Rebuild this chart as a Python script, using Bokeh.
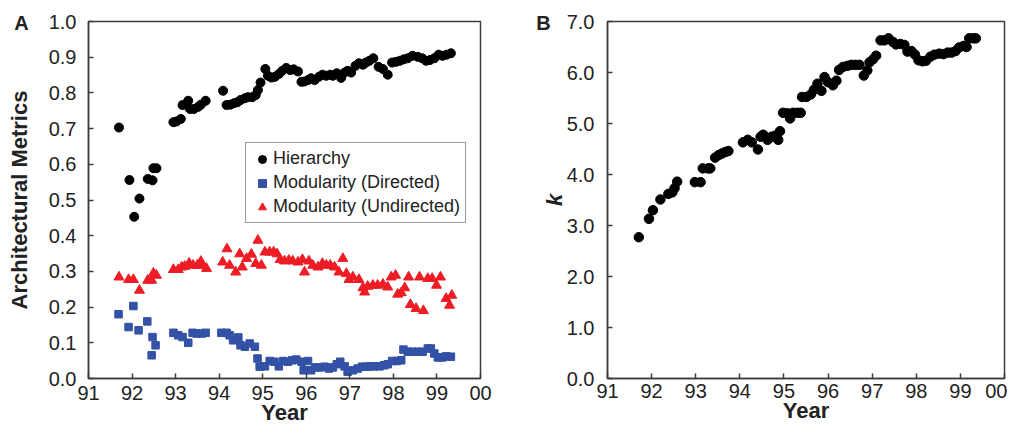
from bokeh.plotting import figure
from bokeh.layouts import row
from bokeh.models import FixedTicker, PrintfTickFormatter, Range1d, Label, Legend, LegendItem
from bokeh.embed import file_html
from bokeh.resources import INLINE

# ---------------- data ----------------
year_ticks = [91, 92, 93, 94, 95, 96, 97, 98, 99, 100]
year_tick_labels = ["91", "92", "93", "94", "95", "96", "97", "98", "99", "00"]

hier_year = [91.70, 91.94, 92.05, 92.17, 92.36, 92.47, 92.49, 92.56, 92.95, 93.02,
             93.12, 93.16, 93.29, 93.33, 93.42, 93.52, 93.58, 93.69, 94.09, 94.17,
             94.26, 94.34, 94.42, 94.49, 94.59, 94.66, 94.76, 94.84, 94.89, 94.95,
             95.06, 95.12, 95.20, 95.28, 95.37, 95.45, 95.54, 95.63, 95.71, 95.81,
             95.89, 95.96, 96.04, 96.11, 96.19, 96.29, 96.37, 96.46, 96.55, 96.61,
             96.70, 96.80, 96.88, 96.95, 97.03, 97.13, 97.21, 97.30, 97.37, 97.45,
             97.54, 97.66, 97.76, 97.87, 97.97, 98.06, 98.15, 98.24, 98.33, 98.44,
             98.56, 98.66, 98.75, 98.84, 98.94, 99.04, 99.13, 99.22, 99.32]
hier_val = [0.703, 0.556, 0.453, 0.504, 0.559, 0.555, 0.589, 0.589, 0.718, 0.720,
            0.727, 0.766, 0.778, 0.755, 0.755, 0.761, 0.767, 0.778, 0.806, 0.766,
            0.767, 0.771, 0.774, 0.780, 0.785, 0.788, 0.788, 0.794, 0.808, 0.829,
            0.867, 0.848, 0.843, 0.845, 0.853, 0.862, 0.870, 0.864, 0.866, 0.860,
            0.831, 0.832, 0.836, 0.841, 0.836, 0.845, 0.851, 0.848, 0.851, 0.848,
            0.855, 0.842, 0.857, 0.862, 0.857, 0.876, 0.883, 0.879, 0.885, 0.890,
            0.897, 0.873, 0.867, 0.851, 0.885, 0.887, 0.890, 0.894, 0.897, 0.904,
            0.901, 0.897, 0.890, 0.892, 0.897, 0.907, 0.904, 0.907, 0.911]

dir_year = [91.69, 91.92, 92.03, 92.15, 92.35, 92.47, 92.45, 92.54, 92.95, 93.06,
            93.16, 93.29, 93.39, 93.48, 93.60, 93.69, 94.05, 94.17, 94.24, 94.32,
            94.44, 94.49, 94.59, 94.70, 94.82, 94.88, 94.93, 95.05, 95.16, 95.27,
            95.37, 95.47, 95.58, 95.68, 95.77, 95.89, 95.94, 96.04, 96.11, 96.21,
            96.31, 96.42, 96.52, 96.61, 96.70, 96.78, 96.88, 96.95, 97.07, 97.18,
            97.28, 97.37, 97.47, 97.56, 97.68, 97.79, 97.87, 97.97, 98.08, 98.18,
            98.23, 98.33, 98.44, 98.56, 98.67, 98.79, 98.86, 98.94, 99.02, 99.12,
            99.21, 99.32]
dir_val = [0.180, 0.144, 0.203, 0.135, 0.160, 0.116, 0.065, 0.093, 0.128, 0.121,
           0.116, 0.100, 0.128, 0.126, 0.126, 0.128, 0.128, 0.128, 0.121, 0.107,
           0.115, 0.093, 0.089, 0.098, 0.089, 0.056, 0.033, 0.034, 0.049, 0.047,
           0.034, 0.049, 0.047, 0.051, 0.053, 0.047, 0.023, 0.049, 0.023, 0.031,
           0.031, 0.033, 0.028, 0.031, 0.040, 0.047, 0.034, 0.019, 0.023, 0.028,
           0.033, 0.033, 0.034, 0.034, 0.034, 0.037, 0.040, 0.049, 0.049, 0.051,
           0.081, 0.075, 0.075, 0.075, 0.075, 0.084, 0.084, 0.070, 0.059, 0.059,
           0.062, 0.061]

und_year = [91.70, 91.92, 92.03, 92.17, 92.36, 92.45, 92.49, 92.56, 92.95, 93.06,
            93.14, 93.21, 93.31, 93.40, 93.50, 93.58, 93.62, 93.71, 94.08, 94.18,
            94.24, 94.38, 94.47, 94.53, 94.63, 94.74, 94.89, 94.84, 94.97, 95.05,
            95.16, 95.25, 95.33, 95.40, 95.50, 95.60, 95.69, 95.81, 95.91, 95.96,
            96.06, 96.15, 96.27, 96.37, 96.46, 96.55, 96.65, 96.75, 96.84, 96.92,
            96.98, 97.07, 97.21, 97.30, 97.34, 97.41, 97.53, 97.64, 97.76, 97.87,
            97.95, 98.05, 98.10, 98.18, 98.26, 98.35, 98.39, 98.52, 98.69, 98.60,
            98.79, 98.89, 98.99, 99.08, 99.21, 99.29, 99.34]
und_val = [0.284, 0.277, 0.277, 0.247, 0.275, 0.275, 0.295, 0.289, 0.305, 0.305,
           0.312, 0.314, 0.323, 0.317, 0.317, 0.328, 0.317, 0.308, 0.326, 0.363,
           0.317, 0.298, 0.349, 0.312, 0.336, 0.348, 0.387, 0.322, 0.317, 0.354,
           0.354, 0.354, 0.349, 0.333, 0.329, 0.331, 0.329, 0.326, 0.333, 0.298,
           0.329, 0.317, 0.312, 0.322, 0.317, 0.317, 0.312, 0.298, 0.336, 0.294,
           0.277, 0.284, 0.277, 0.254, 0.242, 0.258, 0.261, 0.261, 0.264, 0.256,
           0.284, 0.289, 0.236, 0.240, 0.254, 0.284, 0.207, 0.196, 0.190, 0.284,
           0.280, 0.280, 0.261, 0.284, 0.224, 0.205, 0.233]

k_year = [91.71, 91.94, 92.03, 92.20, 92.38, 92.47, 92.52, 92.58, 92.98, 93.11,
          93.16, 93.28, 93.33, 93.44, 93.52, 93.59, 93.67, 93.74, 94.07, 94.18,
          94.27, 94.41, 94.47, 94.53, 94.63, 94.72, 94.80, 94.87, 94.91, 94.98,
          95.08, 95.14, 95.21, 95.31, 95.38, 95.41, 95.51, 95.61, 95.68, 95.76,
          95.85, 95.92, 96.00, 96.11, 96.19, 96.25, 96.34, 96.44, 96.53, 96.62,
          96.71, 96.81, 96.89, 96.94, 97.02, 97.09, 97.19, 97.28, 97.37, 97.47,
          97.54, 97.64, 97.73, 97.80, 97.89, 97.97, 98.05, 98.14, 98.22, 98.32,
          98.41, 98.52, 98.62, 98.71, 98.80, 98.89, 98.97, 99.07, 99.14, 99.20,
          99.29, 99.35]
k_val = [2.77, 3.13, 3.30, 3.51, 3.62, 3.65, 3.73, 3.86, 3.85, 3.85,
         4.12, 4.12, 4.12, 4.33, 4.38, 4.41, 4.44, 4.46, 4.63, 4.68,
         4.63, 4.49, 4.74, 4.78, 4.68, 4.74, 4.76, 4.68, 4.85, 5.21,
         5.20, 5.10, 5.21, 5.21, 5.21, 5.52, 5.52, 5.57, 5.66, 5.78,
         5.64, 5.91, 5.81, 5.75, 5.84, 6.05, 6.11, 6.13, 6.15, 6.15,
         6.15, 5.94, 6.04, 6.20, 6.26, 6.33, 6.63, 6.63, 6.67, 6.60,
         6.55, 6.56, 6.54, 6.41, 6.42, 6.35, 6.24, 6.22, 6.23, 6.31,
         6.35, 6.37, 6.36, 6.39, 6.39, 6.42, 6.49, 6.52, 6.50, 6.67,
         6.67, 6.67]

FONT = "Liberation Sans"
FRAME = "#3c3c3c"


def style(p):
    p.xaxis.ticker = FixedTicker(ticks=year_ticks)
    p.xaxis.major_label_overrides = {t: l for t, l in zip(year_ticks, year_tick_labels)}
    p.yaxis.formatter = PrintfTickFormatter(format="%.1f")
    for ax in (p.xaxis[0], p.yaxis[0]):
        ax.major_tick_in = 5
        ax.major_tick_out = 0
        ax.minor_tick_line_color = None
        ax.axis_line_color = FRAME
        ax.axis_line_width = 1.5
        ax.major_tick_line_color = FRAME
        ax.major_tick_line_width = 1.5
        ax.major_label_text_font = FONT
        ax.major_label_text_font_size = "20px"
        ax.major_label_text_color = "#222222"
        ax.axis_label_text_font = FONT
        ax.axis_label_text_font_size = "22px"
        ax.axis_label_text_font_style = "bold"
        ax.axis_label_text_color = "#222222"
    p.xgrid.visible = False
    p.ygrid.visible = False
    p.outline_line_color = FRAME
    p.outline_line_width = 1.5
    p.background_fill_color = "white"
    p.border_fill_color = "white"


# ---------------- Panel A ----------------
pA = figure(width=515, height=428, output_backend="svg", toolbar_location=None,
            x_range=Range1d(91, 100), y_range=Range1d(0, 1.0),
            min_border_left=88, min_border_right=35, min_border_top=21, min_border_bottom=50)
style(pA)
pA.yaxis.ticker = FixedTicker(ticks=[i / 10 for i in range(11)])
pA.xaxis.axis_label = "Year"
pA.yaxis.axis_label = "Architectural Metrics"
pA.xaxis.major_label_standoff = 7
pA.xaxis.axis_label_standoff = -3
pA.yaxis.major_label_standoff = 12
pA.yaxis.axis_label_standoff = 14

r_h = pA.scatter(hier_year, hier_val, marker="circle", size=9, color="black")
r_d = pA.scatter(dir_year, dir_val, marker="square", size=7.5, color="#3352a6")
r_u = pA.scatter(und_year, und_val, marker="triangle", size=10, color="#ee1c24")

legend = Legend(items=[LegendItem(label="Hierarchy", renderers=[r_h]),
                       LegendItem(label="Modularity (Directed)", renderers=[r_d]),
                       LegendItem(label="Modularity (Undirected)", renderers=[r_u])],
                location=(157, 155))
legend.label_text_font = FONT
legend.label_text_font_size = "18px"
legend.label_text_color = "#222222"
legend.border_line_color = "#333333"
legend.border_line_width = 1.5
legend.padding = 5
legend.spacing = 3
legend.label_height = 20
legend.glyph_height = 20
legend.glyph_width = 22
legend.label_standoff = 0
legend.margin = 0
pA.add_layout(legend, "center")

pA.add_layout(Label(x=89.46, y=0.997, text="A", text_font=FONT, text_font_size="20px",
                    text_font_style="bold", text_align="center", text_baseline="middle",
                    text_color="#222222"), "right")

# ---------------- Panel B ----------------
pB = figure(width=492, height=428, output_backend="svg", toolbar_location=None,
            x_range=Range1d(91, 100), y_range=Range1d(0, 7.0),
            min_border_left=92, min_border_right=3, min_border_top=19, min_border_bottom=48)
style(pB)
pB.yaxis.ticker = FixedTicker(ticks=list(range(8)))
pB.xaxis.axis_label = "Year"
pB.yaxis.axis_label = "k"
pB.yaxis.axis_label_text_font_style = "bold italic"
pB.xaxis.major_label_standoff = 5
pB.xaxis.axis_label_standoff = -3
pB.yaxis.major_label_standoff = 13
pB.yaxis.axis_label_standoff = -3

pB.scatter(k_year, k_val, marker="circle", size=9.5, color="black")

pB.add_layout(Label(x=89.55, y=6.98, text="B", text_font=FONT, text_font_size="20px",
                    text_font_style="bold", text_align="center", text_baseline="middle",
                    text_color="#222222"), "left")

layout = row(pA, pB)
open("out.html", "w").write(file_html(layout, INLINE))
